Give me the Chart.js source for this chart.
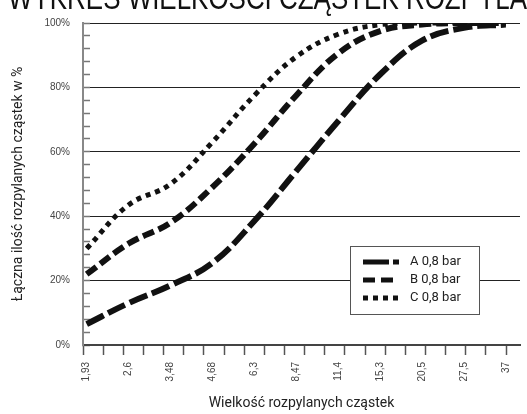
<!DOCTYPE html>
<html lang="pl">
<head>
<meta charset="UTF-8">
<title>Wykres wielkości cząstek</title>
<script src="https://cdn.jsdelivr.net/npm/chart.js"></script>
<style>
  html, body { margin: 0; padding: 0; background: #fff; }
</style>
</head>
<body>
<canvas id="c" width="527" height="414"></canvas>
<script>
  // dane
  const sizes = ['1,93', '2,6', '3,48', '4,68', '6,3', '8,47', '11,4', '15,3', '20,5', '27,5', '37'];
  const seriesNames = ['A 0,8 bar', 'B 0,8 bar', 'C 0,8 bar'];
  const seriesA = [6.5, 13, 18.5, 25.5, 38.5, 54, 69.5, 84, 94.5, 98.5, 99.5];
  const seriesB = [22, 31.5, 38, 49, 62.5, 77.5, 90.5, 97.5, 99.5, 100, 100];
  const seriesC = [30, 43.5, 50, 63, 77.5, 89.5, 96.5, 99.5, 100, 100, 100];
  const yMajor = [0, 20, 40, 60, 80, 100];

  const NARROW = "'Liberation Sans Narrow', 'Roboto', sans-serif";
  const SANS = "'Liberation Sans', Arial, sans-serif";
  const XMIN = -0.088, XMAX = 10.34, XSTEP = 0.4807;

  const dashes = [[19, 5], [12, 5], [5, 5]];
  const legendDashes = [[26, 4], [12, 6], [5, 5]];

  const toPoints = arr => arr.map((v, i) => ({ x: i, y: v }));

  const datasets = [seriesA, seriesB, seriesC].map((s, i) => ({
    label: seriesNames[i],
    data: toPoints(s),
    borderColor: '#111',
    borderWidth: i == 2 ? 5 : 6,
    borderDash: dashes[i],
    borderCapStyle: 'butt',
    pointRadius: 0,
    tension: 0.4,
    fill: false
  }));

  // tytuł u góry (ucięty)
  const titlePlugin = {
    id: 'topTitle',
    afterDraw(chart) {
      const ctx = chart.ctx;
      ctx.save();
      ctx.font = '34px ' + SANS;
      ctx.fillStyle = '#111';
      ctx.textBaseline = 'alphabetic';
      const part = ctx.measureText('WYKRES WIELKOŚCI CZĄSTEK ROZPYLA').width;
      const k = 519 / part;
      ctx.translate(8, 8.5);
      ctx.scale(k, 1);
      ctx.fillText('WYKRES WIELKOŚCI CZĄSTEK ROZPYLANYCH', 0, 0);
      ctx.restore();
    }
  };

  // legenda w ramce
  const boxLegend = {
    id: 'boxLegend',
    afterDatasetsDraw(chart) {
      const ctx = chart.ctx;
      const x = 350, y = 246, w = 129, h = 68;
      ctx.save();
      ctx.fillStyle = '#fff';
      ctx.fillRect(x, y, w, h);
      ctx.strokeStyle = '#555';
      ctx.lineWidth = 1;
      ctx.strokeRect(x + 0.5, y + 0.5, w, h);
      chart.data.datasets.forEach((ds, i) => {
        const ry = 262 + i * 18;
        ctx.beginPath();
        ctx.setLineDash(legendDashes[i]);
        ctx.lineWidth = 5;
        ctx.strokeStyle = '#111';
        ctx.moveTo(363, ry);
        ctx.lineTo(399, ry);
        ctx.stroke();
        ctx.setLineDash([]);
        ctx.font = '13px ' + NARROW;
        ctx.fillStyle = '#222';
        ctx.textBaseline = 'middle';
        ctx.fillText(ds.label, 410, ry);
      });
      ctx.restore();
    }
  };

  new Chart(document.getElementById('c'), {
    type: 'line',
    data: { datasets },
    plugins: [titlePlugin, boxLegend],
    options: {
      responsive: false,
      animation: false,
      devicePixelRatio: 1,
      layout: { padding: { top: 23, right: 7, left: 0, bottom: 0 } },
      plugins: { legend: { display: false }, tooltip: { enabled: false } },
      scales: {
        x: {
          type: 'linear',
          min: XMIN,
          max: XMAX,
          bounds: 'data',
          afterBuildTicks(scale) {
            const t = [];
            for (let k = 0; XMIN + k * XSTEP <= XMAX; k++) t.push({ value: XMIN + k * XSTEP, minor: true });
            sizes.forEach((s, i) => t.push({ value: i }));
            t.sort((a, b) => a.value - b.value);
            scale.ticks = t;
          },
          afterFit(scale) { scale.height = 69; scale.paddingLeft = 0; scale.paddingRight = 0; },
          border: { color: '#444', width: 2 },
          grid: {
            drawOnChartArea: false,
            drawTicks: true,
            tickLength: 10,
            tickWidth: 1.5,
            tickColor: ctx => (ctx.tick && Number.isInteger(ctx.tick.value)) ? 'rgba(0,0,0,0)' : '#555'
          },
          ticks: {
            autoSkip: false,
            minRotation: 90,
            maxRotation: 90,
            padding: 7,
            color: '#444',
            font: { family: SANS, size: 10 },
            callback: v => Number.isInteger(v) ? sizes[v] : ''
          },
          title: {
            display: true,
            text: 'Wielkość rozpylanych cząstek',
            color: '#222',
            font: { family: NARROW, size: 14 },
            padding: { top: 0, bottom: 2 }
          }
        },
        y: {
          min: 0,
          max: 100,
          afterBuildTicks(scale) {
            const t = [];
            for (let v = 0; v <= 100; v += 4) t.push({ value: v });
            scale.ticks = t;
          },
          afterFit(scale) { scale.width = 83; scale.paddingTop = 0; scale.paddingBottom = 0; },
          border: { color: '#888', width: 2 },
          grid: {
            color: ctx => (ctx.tick && yMajor.includes(ctx.tick.value)) ? '#222' : 'rgba(0,0,0,0)',
            lineWidth: 1,
            drawTicks: true,
            tickLength: -7,
            tickWidth: 1.5,
            tickColor: '#777'
          },
          ticks: {
            autoSkip: false,
            padding: 20,
            color: '#444',
            font: { family: SANS, size: 10 },
            callback: v => yMajor.includes(v) ? v + '%' : ''
          },
          title: {
            display: true,
            text: 'Łączna ilość rozpylanych cząstek w %',
            color: '#222',
            font: { family: NARROW, size: 14 },
            padding: { top: 10, bottom: 0 }
          }
        }
      }
    }
  });
</script>
</body>
</html>
